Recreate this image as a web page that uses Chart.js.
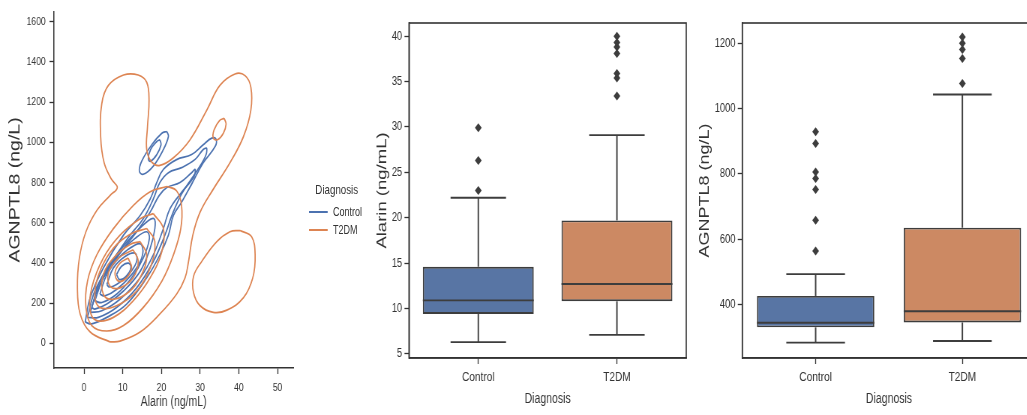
<!DOCTYPE html>
<html>
<head>
<meta charset="utf-8">
<script src="https://cdn.jsdelivr.net/npm/chart.js@4.4.0/dist/chart.umd.min.js"></script>
<style>
html, body { margin: 0; padding: 0; background: #fff; overflow: hidden; width: 1027px; height: 415px; }
/* the whole figure is a bit squeezed sideways, so draw wide and compress */
#wrap { position: absolute; left: 0; top: 0; width: 1400px; height: 415px; transform: scaleX(0.75); transform-origin: 0 0; font-family: "Liberation Sans", Arial, sans-serif; color: #333; }
.painel { position: absolute; top: 0; height: 415px; }
.leg-titulo { position: absolute; left: 399px; top: 182px; width: 100px; text-align: center; font-size: 13px; line-height: 16px; }
.leg-linha { position: absolute; left: 412px; width: 25px; height: 2px; }
.leg-texto { position: absolute; left: 444px; font-size: 12px; line-height: 14px; }
</style>
</head>
<body>
<div id="wrap">
  <div class="painel" style="left:0px;width:400px;"><canvas id="kde"></canvas></div>
  <div class="leg-titulo">Diagnosis</div>
  <div class="leg-linha" style="top:211px;background:#4c72b0;"></div>
  <div class="leg-texto" style="top:205px;">Control</div>
  <div class="leg-linha" style="top:229px;background:#dd8452;"></div>
  <div class="leg-texto" style="top:223px;">T2DM</div>
  <div class="painel" style="left:496px;width:424px;"><canvas id="boxAlarin"></canvas></div>
  <div class="painel" style="left:925.6px;width:460px;"><canvas id="boxAngptl"></canvas></div>
</div>
<script>
// ---- dados ----
const grupos = ["Control", "T2DM"];

// painel 1: contornos da KDE (x = Alarin, y = AGNPTL8)
const kdeTicksX = [0, 10, 20, 30, 40, 50];
const kdeTicksY = [0, 200, 400, 600, 800, 1000, 1200, 1400, 1600];

const t2dmNivel1 = [[6.7,7],[1.6,56],[-1.0,146],[-1.7,276],[-1.2,424],[0.5,555],[3.3,661],[6.7,735],[8.6,775],[7.1,816],[5.2,898],[4.3,1029],[4.6,1193],[6.3,1283],[10.2,1335],[14.0,1335],[16.2,1299],[16.8,1209],[16.4,1078],[16.2,964],[17.5,901],[19.6,885],[23.1,923],[27.4,1013],[31.7,1160],[35.1,1283],[39.0,1340],[41.6,1332],[43.1,1274],[43.1,1160],[41.2,1029],[37.7,898],[33.4,767],[30.0,653],[28.1,538],[27.0,407],[26.1,326],[23.9,244],[19.6,146],[14.5,56],[9.3,11]];
const t2dmIlhaDireita = [[40.3,561],[43.3,530],[44.2,440],[43.6,326],[41.2,227],[36.9,165],[33.4,154],[30.0,187],[28.3,252],[28.3,334],[30.4,407],[34.3,506],[37.7,555]];
const t2dmIlhaTopo = [[36.2,1119],[36.7,1091],[36.0,1045],[34.5,1013],[33.4,1021],[33.6,1062],[35.0,1108]];
const t2dmNivel2 = [[21.4,780],[23.9,759],[25.2,685],[25.0,571],[23.1,440],[20.1,309],[15.3,178],[10.2,88],[5.9,61],[2.0,88],[0.5,178],[0.9,309],[3.3,440],[7.6,571],[12.7,685],[17.1,754]];
const t2dmNivel3 = [[17.9,645],[20.5,571],[20.1,456],[17.1,326],[12.7,211],[7.6,129],[3.3,113],[1.6,162],[2.0,276],[5.0,424],[9.3,538],[14.5,620]];
const t2dmNivel4 = [[16.2,571],[18.3,506],[17.1,375],[13.6,260],[8.4,187],[4.1,178],[2.8,244],[4.1,358],[7.6,473],[12.3,546]];
const t2dmNivel5 = [[14.5,506],[16.2,440],[14.9,342],[11.9,260],[7.6,219],[5.0,244],[5.0,342],[8.0,432],[11.9,492]];
const t2dmNivel6 = [[12.7,465],[14.0,407],[12.7,326],[9.3,276],[6.7,285],[6.3,350],[8.9,424]];
const t2dmNivel7 = [[11.4,424],[12.3,375],[11.0,326],[8.9,309],[8.0,350],[9.3,399]];

const ctrlIlhaExt = [[21.4,1054],[21.8,1029],[20.5,964],[17.9,882],[15.3,841],[14.3,857],[14.9,906],[17.5,988],[20.1,1045]];
const ctrlIlhaInt = [[19.6,1013],[19.9,988],[18.8,939],[17.2,906],[16.6,917],[17.2,964],[18.8,1004]];
const ctrlNivel1 = [[0.3,105],[1.6,227],[5.0,375],[10.2,538],[14.5,636],[17.1,718],[18.8,800],[20.5,865],[23.9,914],[27.8,939],[30.8,988],[33.0,1021],[34.1,1016],[33.9,980],[30.8,898],[27.8,792],[25.2,702],[23.1,636],[21.8,538],[19.6,440],[16.2,326],[11.0,195],[5.9,129],[2.0,97]];
const ctrlNivel2 = [[0.9,129],[2.8,260],[6.7,391],[11.9,538],[15.3,620],[17.9,718],[19.6,800],[21.8,849],[25.2,874],[28.7,915],[30.8,964],[31.7,969],[31.2,923],[28.3,833],[25.2,743],[22.7,636],[20.9,538],[17.9,407],[13.6,276],[8.4,178],[3.7,129]];
const ctrlNivel3 = [[1.6,154],[4.1,293],[8.4,424],[13.6,555],[17.1,653],[19.4,735],[21.4,775],[24.8,800],[27.8,849],[28.7,865],[28.3,825],[25.2,751],[22.2,669],[20.5,571],[17.9,440],[14.5,326],[9.3,219],[4.6,162]];
const ctrlNivel4 = [[2.0,178],[4.1,309],[8.4,440],[12.7,538],[16.2,604],[18.1,620],[18.3,571],[17.1,473],[14.5,358],[10.2,260],[5.9,195],[2.8,170]];
const ctrlNivel5 = [[2.8,211],[5.0,326],[8.8,440],[13.2,522],[16.2,555],[16.9,522],[15.3,424],[12.3,326],[8.4,244],[4.6,203]];
const ctrlNivel6 = [[4.1,244],[5.9,342],[9.3,432],[13.2,489],[14.9,489],[14.9,424],[12.3,342],[8.4,268],[5.4,236]];
const ctrlNivel7 = [[5.9,293],[7.6,375],[10.6,432],[13.2,448],[13.6,407],[11.5,342],[8.4,293],[6.5,280]];
const ctrlNivel8 = [[8.4,342],[9.7,383],[11.5,399],[12.1,375],[10.9,334],[9.2,317]];

// painel 2: boxplot Alarin
const alarinTicks = [5, 10, 15, 20, 25, 30, 35, 40];
const alarinQ1 = [9.4, 10.8];
const alarinMediana = [10.9, 12.7];
const alarinQ3 = [14.6, 19.7];
const alarinMin = [6.3, 7.1];
const alarinMax = [22.2, 29.1];
const alarinForaControl = [23.0, 26.3, 29.9];
const alarinForaT2dm = [33.4, 35.4, 35.9, 38.1, 38.8, 39.3, 40.0];

// painel 3: boxplot AGNPTL8
const angptlTicks = [400, 600, 800, 1000, 1200];
const angptlQ1 = [330, 345];
const angptlMediana = [344, 379];
const angptlQ3 = [426, 635];
const angptlMin = [283, 288];
const angptlMax = [493, 1043];
const angptlForaControl = [564, 658, 752, 786, 806, 893, 929];
const angptlForaT2dm = [1077, 1153, 1181, 1200, 1219];

// ---- estilo ----
const corControl = "#4c72b0";
const corT2dm = "#dd8452";
const corCaixas = ["#5875a4", "#cc8963"];
const corLinha = "#3d3d3d";
const corEixo = "#333";

Chart.defaults.font.family = '"Liberation Sans", Arial, sans-serif';
Chart.defaults.color = corEixo;

function anel(pontos, cor) {
    const dados = pontos.map(p => ({ x: p[0], y: p[1] }));
    dados.push(dados[0]);
    return {
        data: dados,
        borderColor: cor,
        borderWidth: 1.7,
        showLine: true,
        pointRadius: 0,
        tension: 0.4,
        fill: false
    };
}

function fixarTicks(lista) {
    return scale => { scale.ticks = lista.map(v => ({ value: v })); };
}

// numeros sem separador de milhar, como na figura
const semMilhar = v => String(v);

function eixo(extra) {
    return Object.assign({
        grid: { drawOnChartArea: false, drawTicks: true, tickLength: 6, tickColor: corEixo, tickWidth: 1.3 },
        border: { color: corEixo, width: 1.5 }
    }, extra);
}

// ---- painel 1 ----
const contornosT2dm = [t2dmNivel1, t2dmIlhaDireita, t2dmIlhaTopo, t2dmNivel2, t2dmNivel3, t2dmNivel4, t2dmNivel5, t2dmNivel6, t2dmNivel7];
const contornosCtrl = [ctrlIlhaExt, ctrlIlhaInt, ctrlNivel1, ctrlNivel2, ctrlNivel3, ctrlNivel4, ctrlNivel5, ctrlNivel6, ctrlNivel7, ctrlNivel8];

new Chart(document.getElementById("kde"), {
    type: "scatter",
    data: {
        datasets: contornosT2dm.map(c => anel(c, corT2dm)).concat(contornosCtrl.map(c => anel(c, corControl)))
    },
    options: {
        responsive: true,
        maintainAspectRatio: false,
        animation: false,
        events: [],
        layout: { padding: { left: 0, right: 9, top: 7, bottom: 0 } },
        plugins: { legend: { display: false }, tooltip: { enabled: false } },
        scales: {
            x: eixo({
                type: "linear", min: -7.75, max: 54.05,
                afterBuildTicks: fixarTicks(kdeTicksX),
                afterFit: s => { s.height = 47; },
                ticks: { font: { size: 11.5 }, padding: 7, maxRotation: 0, callback: semMilhar },
                title: { display: true, text: "Alarin (ng/mL)", font: { size: 14 }, padding: { top: 0, bottom: 4 } }
            }),
            y: eixo({
                type: "linear", min: -123, max: 1649,
                afterBuildTicks: fixarTicks(kdeTicksY),
                afterFit: s => { s.width = 72; },
                ticks: { font: { size: 11.5 }, padding: 5, callback: semMilhar },
                title: { display: true, text: "AGNPTL8 (ng/L)", font: { size: 19.5 }, padding: { top: 9, bottom: 0 } }
            })
        }
    }
});

// ---- paineis 2 e 3: boxplots ----
const moldura = {
    id: "moldura",
    afterDraw(chart) {
        const { ctx, chartArea: a } = chart;
        ctx.save();
        ctx.strokeStyle = corEixo;
        ctx.lineWidth = 1.6;
        ctx.strokeRect(a.left, a.top, a.right - a.left, a.bottom - a.top);
        ctx.restore();
    }
};

const bigodes = {
    id: "bigodes",
    afterDatasetsDraw(chart, args, opts) {
        const { ctx } = chart;
        const x = chart.scales.x;
        const y = chart.scales.y;
        const passo = x.getPixelForValue(1) - x.getPixelForValue(0);
        const meiaCaixa = passo * 0.4;
        const meiaHaste = passo * 0.2;

        function linha(x1, y1, x2, y2) {
            ctx.beginPath();
            ctx.moveTo(x1, y1);
            ctx.lineTo(x2, y2);
            ctx.stroke();
        }

        ctx.save();
        ctx.strokeStyle = corLinha;
        ctx.lineWidth = 1.9;
        opts.q1.forEach((q1, i) => {
            const cx = x.getPixelForValue(i);
            const yMin = y.getPixelForValue(opts.min[i]);
            const yMax = y.getPixelForValue(opts.max[i]);
            linha(cx, y.getPixelForValue(opts.q3[i]), cx, yMax);
            linha(cx, y.getPixelForValue(q1), cx, yMin);
            linha(cx - meiaHaste, yMax, cx + meiaHaste, yMax);
            linha(cx - meiaHaste, yMin, cx + meiaHaste, yMin);
            const yMed = y.getPixelForValue(opts.mediana[i]);
            linha(cx - meiaCaixa, yMed, cx + meiaCaixa, yMed);
        });
        ctx.restore();
    }
};

function criarBoxplot(id, cfg) {
    const pontosFora = cfg.foraControl.map(v => ({ x: grupos[0], y: v }))
        .concat(cfg.foraT2dm.map(v => ({ x: grupos[1], y: v })));

    return new Chart(document.getElementById(id), {
        type: "bar",
        data: {
            labels: grupos,
            datasets: [
                {
                    type: "scatter",
                    data: pontosFora,
                    pointStyle: "rectRot",
                    pointRadius: 4.5,
                    backgroundColor: corLinha,
                    borderColor: corLinha,
                    borderWidth: 0
                },
                {
                    data: cfg.q1.map((q, i) => [q, cfg.q3[i]]),
                    backgroundColor: corCaixas,
                    borderColor: corLinha,
                    borderWidth: 1.9,
                    borderSkipped: false,
                    categoryPercentage: 0.8,
                    barPercentage: 1.0
                }
            ]
        },
        options: {
            responsive: true,
            maintainAspectRatio: false,
            animation: false,
            events: [],
            layout: { padding: { left: 0, right: 5, top: 23, bottom: 0 } },
            plugins: {
                legend: { display: false },
                tooltip: { enabled: false },
                bigodes: { q1: cfg.q1, q3: cfg.q3, mediana: cfg.mediana, min: cfg.min, max: cfg.max }
            },
            scales: {
                x: eixo({
                    type: "category",
                    offset: true,
                    grid: { drawOnChartArea: false, drawTicks: true, tickLength: 6, tickColor: corEixo, tickWidth: 1.3, offset: false },
                    afterFit: s => { s.height = 57; },
                    ticks: { font: { size: 13.5 }, padding: 5, maxRotation: 0 },
                    title: { display: true, text: "Diagnosis", font: { size: 14 }, padding: { top: 0, bottom: 7 } }
                }),
                y: eixo({
                    type: "linear", min: cfg.yMin, max: cfg.yMax,
                    afterBuildTicks: fixarTicks(cfg.ticks),
                    afterFit: s => { s.width = cfg.larguraY; },
                    ticks: { font: { size: 12.5 }, padding: 3, callback: semMilhar },
                    title: { display: true, text: cfg.tituloY, font: { size: cfg.fonteTitulo }, padding: { top: 3, bottom: 0 } }
                })
            }
        },
        plugins: [bigodes, moldura]
    });
}

criarBoxplot("boxAlarin", {
    q1: alarinQ1, q3: alarinQ3, mediana: alarinMediana, min: alarinMin, max: alarinMax,
    foraControl: alarinForaControl, foraT2dm: alarinForaT2dm,
    yMin: 4.55, yMax: 41.45, ticks: alarinTicks,
    larguraY: 49.3, tituloY: "Alarin (ng/mL)", fonteTitulo: 18.5
});

criarBoxplot("boxAngptl", {
    q1: angptlQ1, q3: angptlQ3, mediana: angptlMediana, min: angptlMin, max: angptlMax,
    foraControl: angptlForaControl, foraT2dm: angptlForaT2dm,
    yMin: 236, yMax: 1262, ticks: angptlTicks,
    larguraY: 63.7, tituloY: "AGNPTL8 (ng/L)", fonteTitulo: 18
});
</script>
</body>
</html>
